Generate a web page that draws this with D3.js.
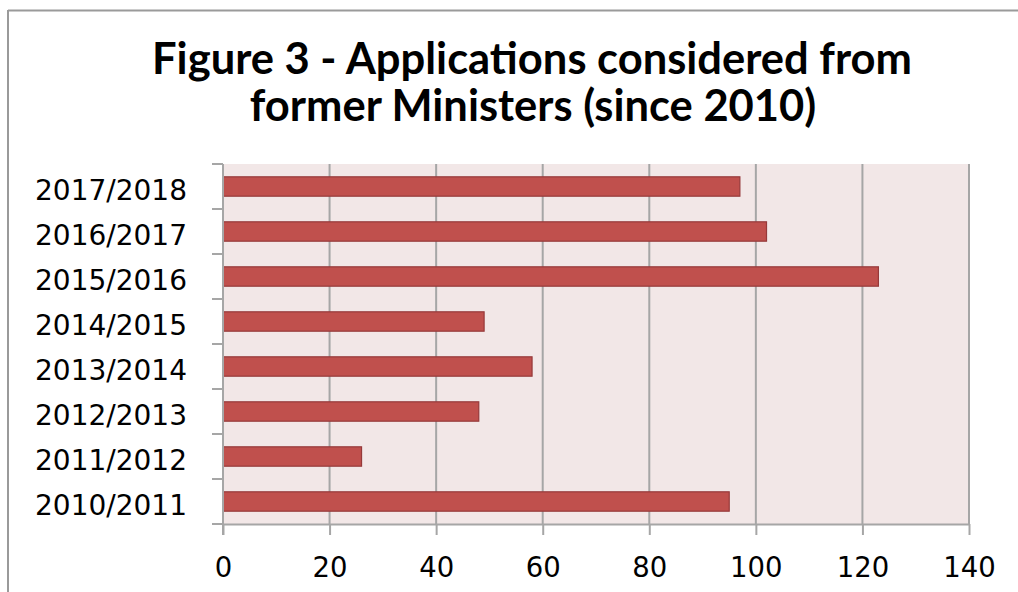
<!DOCTYPE html>
<html>
<head>
<meta charset="utf-8">
<script src="https://cdn.jsdelivr.net/npm/d3@7"></script>
<style>
html,body{margin:0;padding:0;background:#fff;}
svg{display:block;}
</style>
</head>
<body>
<svg id="chart" width="1018" height="592"></svg>
<script>
const categories = ["2010/2011","2011/2012","2012/2013","2013/2014","2014/2015","2015/2016","2016/2017","2017/2018"];
const values = [95, 26, 48, 58, 49, 123, 102, 97];
const xTicks = [0, 20, 40, 60, 80, 100, 120, 140];
const titleLines = ["Figure 3 - Applications considered from", "former Ministers (since 2010)"];

const svg = d3.select("#chart");
const W = 1018, H = 592;
const plot = {left: 223, right: 969, top: 164, bottom: 524};

// outer border (top and left visible)
svg.append("line").attr("x1", 8).attr("x2", W).attr("y1", 10.5).attr("y2", 10.5)
  .attr("stroke", "#9a9a9a").attr("stroke-width", 2);
svg.append("line").attr("x1", 8).attr("x2", 8).attr("y1", 10).attr("y2", H)
  .attr("stroke", "#9a9a9a").attr("stroke-width", 2);

// title
const tFont = "Lato, 'Open Sans', sans-serif";
const t1 = svg.append("text").attr("x", 532).attr("y", 74).attr("text-anchor", "middle")
  .style("font-family", tFont).style("font-weight", "bold").style("font-size", "36px")
  .attr("fill", "#000").text(titleLines[0]);
const t2 = svg.append("text").attr("x", 533).attr("y", 121).attr("text-anchor", "middle")
  .style("font-family", tFont).style("font-weight", "bold").style("font-size", "36px")
  .attr("fill", "#000").text(titleLines[1]);
const w1 = t1.node().getComputedTextLength();
const fs = 36 * 760 / w1;
t1.style("font-size", fs + "px");
t2.style("font-size", fs + "px");

const x = d3.scaleLinear().domain([0, 140]).range([plot.left, plot.right]);
const y = d3.scaleBand().domain(categories.slice().reverse()).range([plot.top, plot.bottom])
  .paddingInner(0.57).paddingOuter(0.285);

// plot background
svg.append("rect").attr("x", plot.left).attr("y", plot.top)
  .attr("width", plot.right - plot.left).attr("height", plot.bottom - plot.top)
  .attr("fill", "#F2E7E7");

// gridlines
svg.append("g").selectAll("line").data(xTicks.filter(d => d > 0)).join("line")
  .attr("x1", d => x(d)).attr("x2", d => x(d))
  .attr("y1", plot.top).attr("y2", plot.bottom)
  .attr("stroke", "#A6A6A6").attr("stroke-width", 2);

// bars
svg.append("g").selectAll("rect").data(categories.map((c, i) => ({c, v: values[i]}))).join("rect")
  .attr("x", x(0)).attr("y", d => y(d.c))
  .attr("width", d => x(d.v) - x(0)).attr("height", y.bandwidth())
  .attr("fill", "#C0504D").attr("stroke", "#96393A").attr("stroke-width", 1.2);

// x axis
const labelFont = "'DejaVu Sans', sans-serif";
const xAxis = svg.append("g").attr("transform", `translate(0,${plot.bottom})`)
  .call(d3.axisBottom(x).tickValues(xTicks).tickSize(11).tickPadding(22).tickSizeOuter(0));
xAxis.select(".domain").attr("stroke", "#A6A6A6").attr("stroke-width", 2);
xAxis.selectAll(".tick line").attr("stroke", "#A6A6A6").attr("stroke-width", 2);
xAxis.selectAll(".tick text").attr("dy", null).attr("y", 53)
  .style("font-family", labelFont).style("font-size", "27.5px").attr("fill", "#000");

// y axis (ticks at band boundaries)
const yAxisG = svg.append("g").attr("transform", `translate(${plot.left},0)`);
yAxisG.append("line").attr("x1", 0).attr("x2", 0).attr("y1", plot.top).attr("y2", plot.bottom + 11)
  .attr("stroke", "#A6A6A6").attr("stroke-width", 2);
const bounds = d3.range(categories.length + 1).map(i => plot.top + i * (plot.bottom - plot.top) / categories.length);
yAxisG.selectAll("line.tk").data(bounds).join("line").attr("class", "tk")
  .attr("x1", -11).attr("x2", 0).attr("y1", d => d).attr("y2", d => d)
  .attr("stroke", "#A6A6A6").attr("stroke-width", 2);
yAxisG.selectAll("text").data(categories).join("text")
  .attr("x", -36).attr("y", d => y(d) + y.bandwidth() / 2 + 13.5)
  .attr("text-anchor", "end")
  .style("font-family", labelFont).style("font-size", "28px").attr("fill", "#000")
  .text(d => d);
</script>
</body>
</html>
